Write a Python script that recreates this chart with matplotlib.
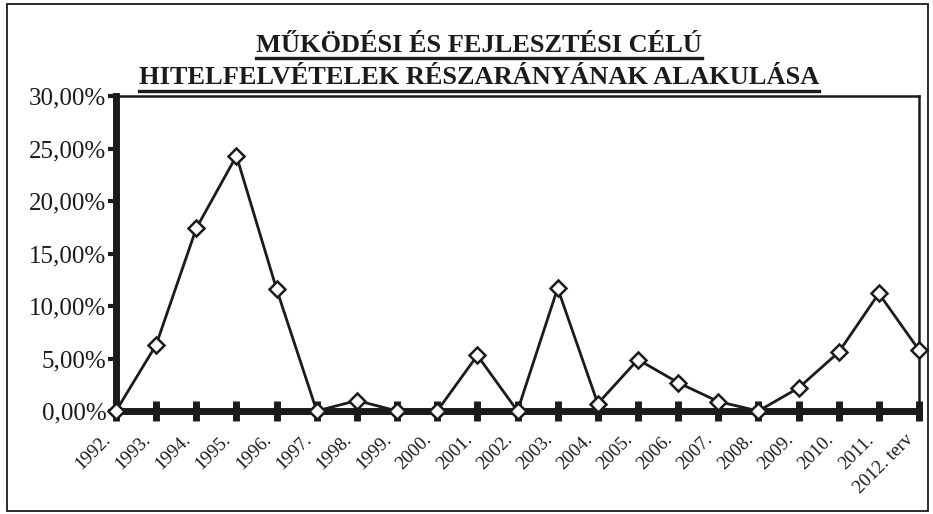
import matplotlib
matplotlib.use("Agg")
import matplotlib.pyplot as plt
from matplotlib.lines import Line2D
from matplotlib.patches import Rectangle
import matplotlib.transforms as mtransforms
import numpy as np

years = ["1992.", "1993.", "1994.", "1995.", "1996.", "1997.", "1998.", "1999.",
         "2000.", "2001.", "2002.", "2003.", "2004.", "2005.", "2006.", "2007.",
         "2008.", "2009.", "2010.", "2011.", "2012. terv"]
values = [0.0, 6.3, 17.4, 24.3, 11.6, 0.0, 1.0, 0.0, 0.0, 5.3, 0.0, 11.7,
          0.7, 4.9, 2.7, 0.9, 0.0, 2.2, 5.6, 11.2, 5.8]
y_ticks = [0, 5, 10, 15, 20, 25, 30]
y_tick_labels = ["0,00%", "5,00%", "10,00%", "15,00%", "20,00%", "25,00%", "30,00%"]
title_lines = ["MŰKÖDÉSI ÉS FEJLESZTÉSI CÉLÚ",
               "HITELFELVÉTELEK RÉSZARÁNYÁNAK ALAKULÁSA"]

INK = "#1b1b1b"
SERIF = ["Liberation Serif", "DejaVu Serif"]

W, H = 933, 514
fig = plt.figure(figsize=(W / 100, H / 100), dpi=100)
fig.patch.set_facecolor("white")

ax = fig.add_axes([116 / W, (H - 411) / H, (919 - 116) / W, (411 - 96) / H])
x = np.arange(len(years))
ax.plot(x, values, color=INK, lw=2.0, marker="D", ms=8.5, mfc="white",
        mec=INK, mew=1.8, clip_on=False, zorder=6)
ax.set_xlim(0, len(years) - 1)
ax.set_ylim(0, 30)

ax.spines["bottom"].set_linewidth(5)
ax.spines["left"].set_linewidth(5)
ax.spines["top"].set_linewidth(1.8)
ax.spines["right"].set_linewidth(1.8)
for s in ax.spines.values():
    s.set_color(INK)
ax.spines["bottom"].set_zorder(5)

ax.set_xticks(x)
ax.set_xticklabels(years, rotation=45, ha="right", va="center", rotation_mode="anchor",
                   fontfamily=SERIF, fontsize=13.5, color=INK)
ax.tick_params(axis="x", direction="inout", length=14, width=5, color=INK, pad=12)
shift = mtransforms.ScaledTranslation(-8 / 100, 0, fig.dpi_scale_trans)
for lab in ax.get_xticklabels():
    lab.set_transform(lab.get_transform() + shift)

ax.set_yticks(y_ticks)
ax.set_yticklabels(y_tick_labels, fontfamily=SERIF, fontsize=18, color=INK)
ax.tick_params(axis="y", direction="out", length=6, width=3, color=INK, pad=1)

# Title with underline
fig.canvas.draw()
renderer = fig.canvas.get_renderer()
title_y = [H - 45, H - 78]
for line, ty in zip(title_lines, title_y):
    t = fig.text(479 / W, ty / H, line, ha="center", va="center",
                 fontfamily=SERIF, fontsize=19, fontweight="bold", color=INK)
    bb = t.get_window_extent(renderer=renderer)
    uy = (bb.y0 - 1) / H
    fig.add_artist(Line2D([bb.x0 / W, bb.x1 / W], [uy, uy], transform=fig.transFigure,
                          color=INK, lw=2.4))

# Outer frame
fig.add_artist(Rectangle((7 / W, 3 / H), (928 - 7) / W, (510 - 3) / H,
                         transform=fig.transFigure, fill=False, ec=INK, lw=1.3))

fig.savefig("out.png", dpi=100, facecolor="white")
